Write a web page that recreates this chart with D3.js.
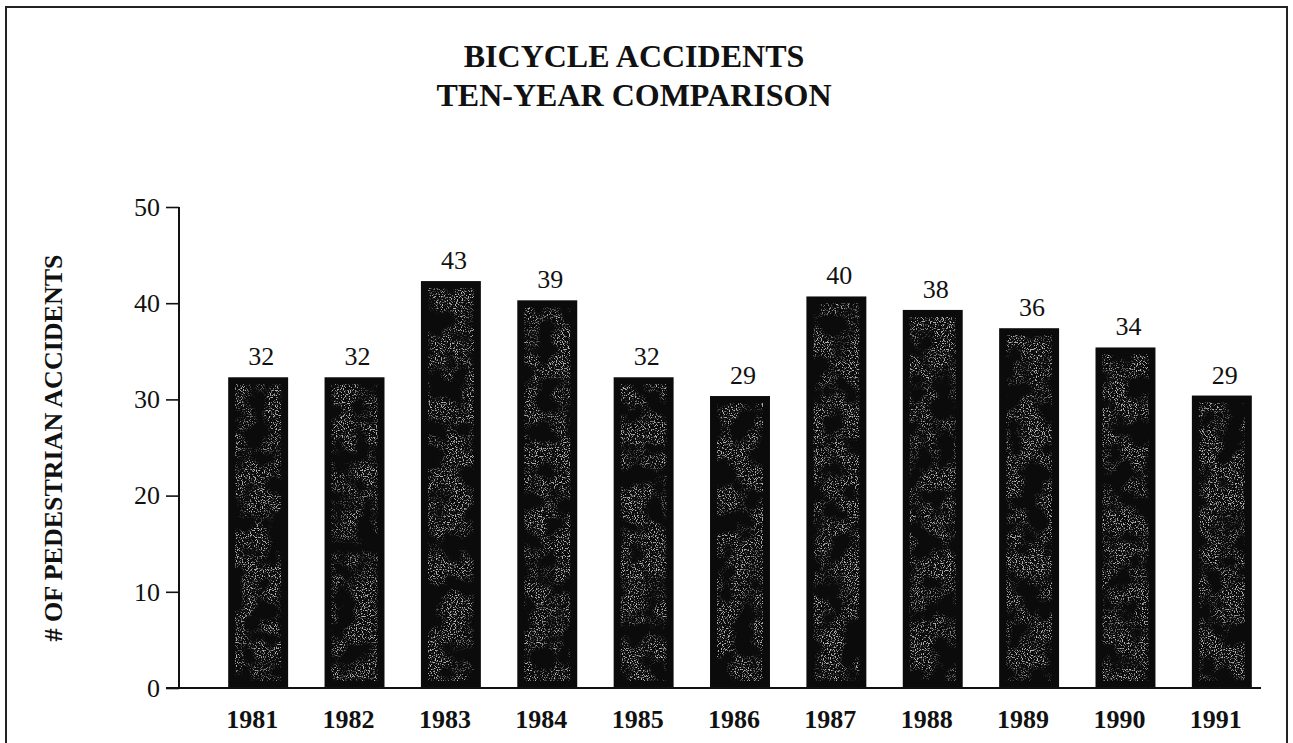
<!DOCTYPE html>
<html>
<head>
<meta charset="utf-8">
<script src="https://cdnjs.cloudflare.com/ajax/libs/d3/7.8.5/d3.min.js"></script>
<style>
    body { margin: 0; background: #fff; }
    svg { display: block; }
</style>
</head>
<body>
<svg id="chart" width="1293" height="743"></svg>
<script>

// values
var years = ["1981", "1982", "1983", "1984", "1985", "1986", "1987", "1988", "1989", "1990", "1991"];
// bar heights as drawn
var barHeights = [32.3, 32.3, 42.3, 40.3, 32.3, 30.35, 40.7, 39.3, 37.4, 35.4, 30.4];
// numbers printed above each bar
var barLabels = [32, 32, 43, 39, 32, 29, 40, 38, 36, 34, 29];
var yTicks = [0, 10, 20, 30, 40, 50];
var titleLines = ["BICYCLE ACCIDENTS", "TEN-YEAR COMPARISON"];
var yTitle = "# OF PEDESTRIAN ACCIDENTS";

var serif = "Liberation Serif, Times New Roman, serif";

var svg = d3.select("#chart")
    .attr("font-family", serif);

var data = years.map(function (y, i) {
    return {year: y, value: barHeights[i], label: barLabels[i]};
});

// speckle texture for the bars (scanned halftone look)
var defs = svg.append("defs");
var f = defs.append("filter").attr("id", "speckle")
    .attr("x", 0).attr("y", 0).attr("width", 1).attr("height", 1)
    .attr("color-interpolation-filters", "sRGB");
f.append("feTurbulence").attr("type", "fractalNoise").attr("baseFrequency", 0.85)
    .attr("numOctaves", 1).attr("seed", 7).attr("result", "fineN");
f.append("feColorMatrix").attr("in", "fineN").attr("type", "matrix")
    .attr("values", "0 0 0 0 0.7  0 0 0 0 0.7  0 0 0 0 0.7  9 0 0 0 -4.8")
    .attr("result", "fine");
f.append("feTurbulence").attr("type", "fractalNoise").attr("baseFrequency", 0.045)
    .attr("numOctaves", 2).attr("seed", 3).attr("result", "coarseN");
f.append("feColorMatrix").attr("in", "coarseN").attr("type", "matrix")
    .attr("values", "0 0 0 0 0  0 0 0 0 0  0 0 0 0 0  5 0 0 0 -1.9")
    .attr("result", "coarse");
f.append("feComposite").attr("in", "fine").attr("in2", "coarse").attr("operator", "in").attr("result", "dots");
f.append("feComposite").attr("in", "dots").attr("in2", "SourceAlpha").attr("operator", "in").attr("result", "dotsIn");
var m = f.append("feMerge");
m.append("feMergeNode").attr("in", "SourceGraphic");
m.append("feMergeNode").attr("in", "dotsIn");

// outer frame
svg.append("rect")
    .attr("x", 6).attr("y", 7)
    .attr("width", 1281).attr("height", 760)
    .attr("fill", "none")
    .attr("stroke", "#222")
    .attr("stroke-width", 2);

// title
svg.append("text")
    .attr("x", 634).attr("y", 67)
    .attr("text-anchor", "middle")
    .attr("font-family", serif)
    .attr("font-weight", "bold")
    .attr("font-size", 32)
    .attr("fill", "#111")
    .selectAll("tspan")
    .data(titleLines)
    .enter().append("tspan")
    .attr("x", 634)
    .attr("dy", function (d, i) { return i == 0 ? 0 : 39; })
    .text(function (d) { return d; });

var xScale = d3.scaleBand()
    .domain(years)
    .range([180, 1300])
    .paddingInner(0.378)
    .paddingOuter(0.5);

var yScale = d3.scaleLinear()
    .domain([0, 50])
    .range([688, 207]);

// y axis
var yAxis = d3.axisLeft(yScale)
    .tickValues(yTicks)
    .tickSize(13)
    .tickPadding(6)
    .tickFormat(d3.format("d"));

var yAxisG = svg.append("g")
    .attr("transform", "translate(179,0)")
    .call(yAxis)
    .attr("font-family", serif)
    .attr("font-size", 26);
yAxisG.select(".domain").remove();
yAxisG.selectAll(".tick line").attr("stroke", "#111").attr("stroke-width", 1.6);
yAxisG.selectAll(".tick text").attr("fill", "#111");

svg.append("line")
    .attr("x1", 179).attr("x2", 179)
    .attr("y1", yScale(50)).attr("y2", yScale(0))
    .attr("stroke", "#111").attr("stroke-width", 2);

// bars: solid black body, speckled core inset from the edges
var inset = 7;
var bars = svg.selectAll(".bar")
    .data(data)
    .enter().append("g")
    .attr("class", "bar");

bars.append("rect")
    .attr("x", d => xScale(d.year))
    .attr("y", d => yScale(d.value))
    .attr("width", xScale.bandwidth())
    .attr("height", d => yScale(0) - yScale(d.value))
    .attr("fill", "#0b0b0b");

bars.append("rect")
    .attr("x", d => xScale(d.year) + inset)
    .attr("y", d => yScale(d.value) + inset)
    .attr("width", xScale.bandwidth() - 2 * inset)
    .attr("height", d => yScale(0) - yScale(d.value) - 2 * inset)
    .attr("fill", "#0b0b0b")
    .attr("filter", "url(#speckle)");

// x axis line
svg.append("line")
    .attr("x1", 166).attr("x2", 1261)
    .attr("y1", yScale(0)).attr("y2", yScale(0))
    .attr("stroke", "#111").attr("stroke-width", 2.2);

// x axis labels
var xAxis = d3.axisBottom(xScale).tickSize(0).tickPadding(0);
var xAxisG = svg.append("g")
    .attr("transform", "translate(-6," + yScale(0) + ")")
    .call(xAxis)
    .attr("font-family", serif)
    .attr("font-size", 26)
    .attr("font-weight", "bold");
xAxisG.select(".domain").remove();
xAxisG.selectAll(".tick text")
    .attr("dy", null)
    .attr("y", 40)
    .attr("fill", "#111");

// value labels above bars
svg.selectAll(".valLabel")
    .data(data)
    .enter().append("text")
    .attr("class", "valLabel")
    .attr("x", d => xScale(d.year) + xScale.bandwidth() / 2 + 3)
    .attr("y", d => yScale(d.value) - 12)
    .attr("text-anchor", "middle")
    .attr("font-family", serif)
    .attr("font-size", 26)
    .attr("fill", "#111")
    .text(d => d.label);

// y axis title
svg.append("text")
    .attr("transform", "translate(62,448) rotate(-90)")
    .attr("text-anchor", "middle")
    .attr("font-family", serif)
    .attr("font-weight", "bold")
    .attr("font-size", 26)
    .attr("fill", "#111")
    .text(yTitle);

</script>
</body>
</html>
